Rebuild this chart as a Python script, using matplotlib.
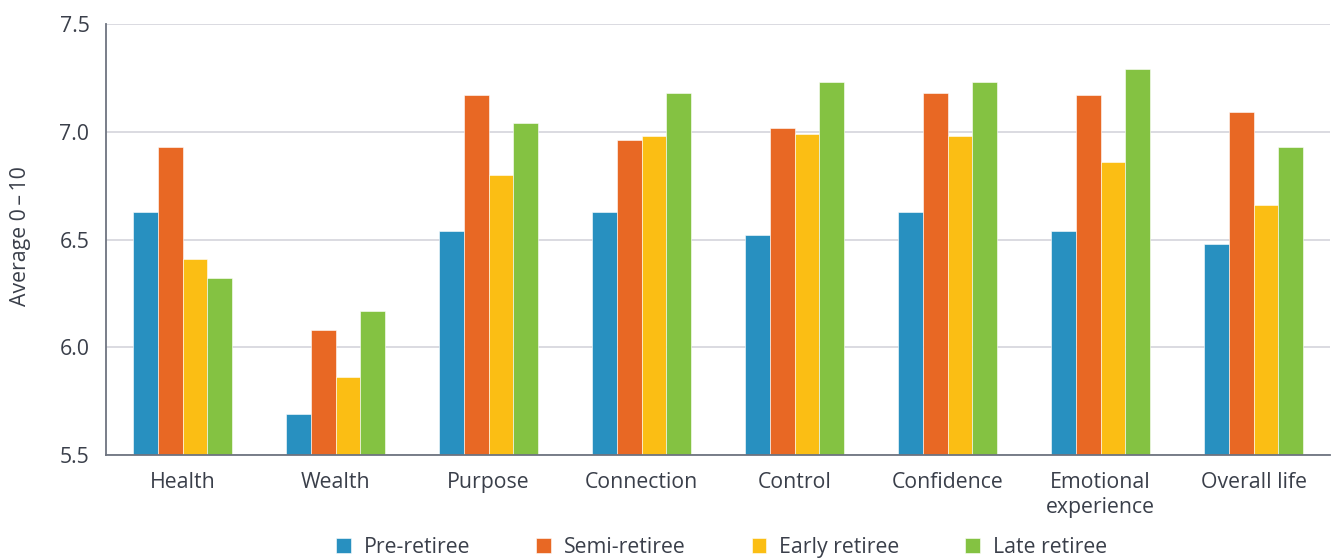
import numpy as np
import matplotlib
matplotlib.use("Agg")
import matplotlib.pyplot as plt

plt.rcParams['font.family'] = ['Open Sans', 'DejaVu Sans']

categories = ["Health", "Wealth", "Purpose", "Connection", "Control",
              "Confidence", "Emotional\nexperience", "Overall life"]
series_names = ["Pre-retiree", "Semi-retiree", "Early retiree", "Late retiree"]
pre_retiree = [6.63, 5.69, 6.54, 6.63, 6.52, 6.63, 6.54, 6.48]
semi_retiree = [6.93, 6.08, 7.17, 6.96, 7.02, 7.18, 7.17, 7.09]
early_retiree = [6.41, 5.86, 6.80, 6.98, 6.99, 6.98, 6.86, 6.66]
late_retiree = [6.32, 6.17, 7.04, 7.18, 7.23, 7.23, 7.29, 6.93]
colors = ["#2890C0", "#E86824", "#FBBE14", "#84C242"]
y_ticks = [5.5, 6.0, 6.5, 7.0, 7.5]

text_color = "#3a3f4a"
fs = 15.3
fig = plt.figure(figsize=(13.34, 5.6), dpi=100)
ax = fig.add_axes([0.0795, 0.1875, 0.9175, 0.7695])

x = np.arange(len(categories))
bar_w = 0.1625
all_series = [pre_retiree, semi_retiree, early_retiree, late_retiree]
for i, (name, vals, c) in enumerate(zip(series_names, all_series, colors)):
    offset = (i - 1.5) * bar_w
    ax.bar(x + offset, np.array(vals) - 5.5, bar_w, bottom=5.5, color=c,
           label=name, edgecolor="white", linewidth=0.4, zorder=3)

ax.set_xlim(-0.5, len(categories) - 0.5)
ax.set_ylim(5.5, 7.5)
ax.set_yticks(y_ticks)
ax.set_yticklabels([f"{t:.1f}" for t in y_ticks])
ax.set_xticks(x)
ax.set_xticklabels(categories, linespacing=1.2)
ax.tick_params(axis='both', length=0, labelsize=fs, colors=text_color)
ax.tick_params(axis='x', pad=12.5)
ax.tick_params(axis='y', pad=12)

ax.grid(axis='y', color="#d8d8de", linewidth=1.3, zorder=0)
ax.set_axisbelow(True)
for s in ["top", "right"]:
    ax.spines[s].set_visible(False)
for s in ["left", "bottom"]:
    ax.spines[s].set_color("#6e7480")
    ax.spines[s].set_linewidth(1.3)
    ax.spines[s].set_zorder(4)

fig.text(0.0157, 0.579, "Average 0\u2009\u2013\u200910", rotation=90, ha='center',
         va='center', fontsize=fs, color=text_color)

leg = fig.legend(loc='center', bbox_to_anchor=(0.541, 0.022), ncol=4,
                 frameon=False, fontsize=fs, handlelength=0.7, handleheight=0.7,
                 handletextpad=0.6, columnspacing=3.1)
for t in leg.get_texts():
    t.set_color(text_color)

fig.savefig("out.png", dpi=100, facecolor="white")
